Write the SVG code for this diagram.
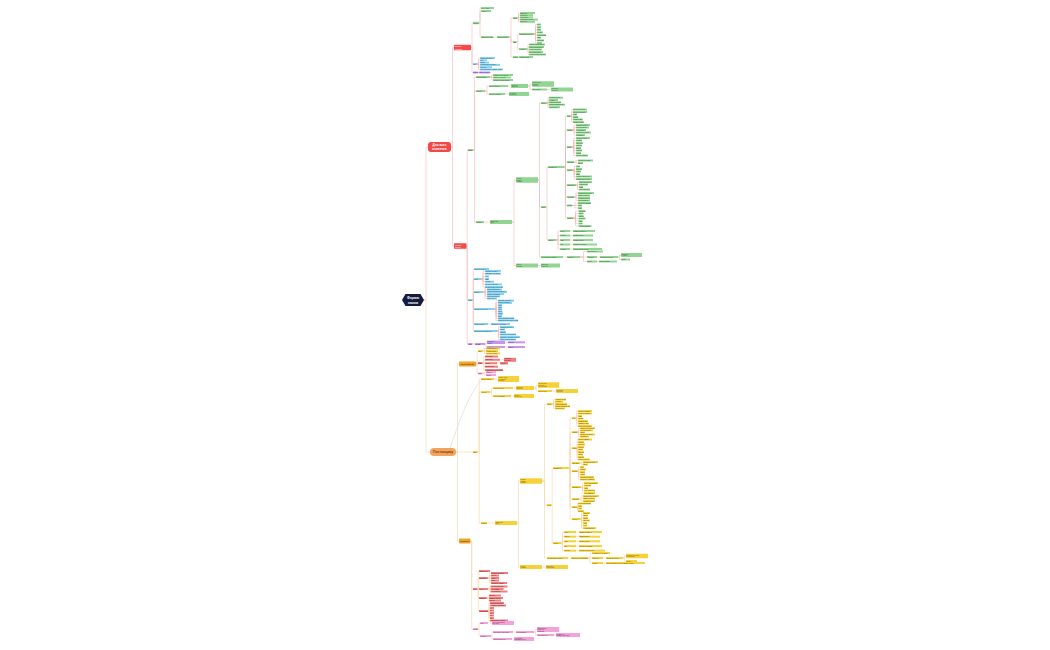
<svg xmlns="http://www.w3.org/2000/svg" width="1050" height="650" viewBox="0 0 1050 650">
<style>
text{font-family:"Liberation Sans",Arial,sans-serif;font-size:1.5px}
.g rect{fill:#92d592}.g text{fill:#1f4d1f}
.b rect{fill:#86d1f0}.b text{fill:#13435a}
.p rect{fill:#c895ea}.p text{fill:#40195a}
.y rect{fill:#f6d23a}.y text{fill:#5c4400}
.r rect{fill:#f07e7e}.r text{fill:#5c1010}
.k rect{fill:#f4a3da}.k text{fill:#5c1a48}
.cr path{fill:none;stroke:#f5b4b4;stroke-width:.55}
.co path{fill:none;stroke:#f7cf9e;stroke-width:.55}
.rel{fill:none;stroke:#c8c8c8;stroke-width:.45}
.wt{fill:#fff;font-weight:bold;text-anchor:middle}
</style>
<rect width="1050" height="650" fill="#fff"/>
<g id="connectors">
<g class="cr">
<path d="M424 300H426V147H428"/>
<path d="M451 147H452.5V47.5H454M451 147H452.5V246H454"/>
<path d="M471 47.5H472V23H473M471 47.5H472V64H473M471 47.5H472V72.5H473"/>
<path d="M479 23H480V8H481M479 23H480V11H481M479 23H480V37H481M493 37H497"/>
<path d="M509 37H511V18H513M509 37H511V42H513M509 37H511V57H513"/>
<path d="M517 18H518.5V13H520M517 18H518.5V15.2H520M517 18H518.5V17.4H520M517 18H518.5V19.6H520M517 18H518.5V21.8H520"/>
<path d="M516.5 42H517.7V34H519M516.5 42H517.7V49H519"/>
<path d="M534 34H535.5V24.5H537M534 34H535.5V27.1H537M534 34H535.5V29.8H537M534 34H535.5V32.4H537M534 34H535.5V35.1H537M534 34H535.5V37.7H537M534 34H535.5V40.4H537M534 34H535.5V43H537"/>
<path d="M527 49H528V44.5H529M527 49H528V47H529M527 49H528V49.5H529M527 49H528V52H529M527 49H528V54.5H529M518 57H519"/>
<path d="M477 64H478.5V58H480M477 64H478.5V60.3H480M477 64H478.5V62.6H480M477 64H478.5V64.9H480M477 64H478.5V67.2H480M477 64H478.5V69.5H480M478 72.5H479"/>
<path d="M466.5 246H467.2V150H468M466.5 246H467.2V300H468M466.5 246H467.2V344H468"/>
<path d="M473 150H474.5V77H476M473 150H474.5V91H476M473 150H474.5V222H476"/>
<path d="M490 77H491.5V75H493M490 77H491.5V77.5H493M490 77H491.5V80H493"/>
<path d="M485 91H487V86H489M485 91H487V94H489M508 86H511M505 94H509"/>
<path d="M528 86H530V84H532M528 86H530V89.5H532M547 89.5H551"/>
<path d="M484 222H490M512 222H514V180H516M512 222H514V265.5H516M538 265.5H541"/>
<path d="M538 180H539.5V103H541M538 180H539.5V207H541M538 180H539.5V257H541"/>
<path d="M547 103H548V97.7H549M547 103H548V100H549M547 103H548V102.3H549M547 103H548V104.7H549M547 103H548V107.2H549"/>
<path d="M546 207H547V167H548M546 207H547V240H548"/>
<path d="M564 167H565.5V116H567M564 167H565.5V130H567M564 167H565.5V147H567M564 167H565.5V162H567M564 167H565.5V170H567M564 167H565.5V185H567M564 167H565.5V197H567M564 167H565.5V205.5H567M564 167H565.5V218H567"/>
<path d="M570.5 116H571.7V109.5H573M570.5 116H571.7V112H573M570.5 116H571.7V114.5H573M570.5 116H571.7V117H573M570.5 116H571.7V119.5H573M570.5 116H571.7V122H573"/>
<path d="M572 130H574V125H576M572 130H574V127.5H576M572 130H574V130H576M572 130H574V132.5H576M572 130H574V135H576"/>
<path d="M571.5 147H573.7V138H576M571.5 147H573.7V140.5H576M571.5 147H573.7V143H576M571.5 147H573.7V145.5H576M571.5 147H573.7V148H576M571.5 147H573.7V150.5H576M571.5 147H573.7V153H576M571.5 147H573.7V155.5H576"/>
<path d="M574 162H576V160.5H578M574 162H576V163H578"/>
<path d="M572.5 170H574.2V166.5H576M572.5 170H574.2V169H576M572.5 170H574.2V171.5H576M572.5 170H574.2V174H576M572.5 170H574.2V176.5H576M572.5 170H574.2V179H576"/>
<path d="M576 185H577.5V182H579M576 185H577.5V184.5H579M576 185H577.5V187H579M576 185H577.5V189.5H579"/>
<path d="M574 197H576V193H578M574 197H576V195.5H578M574 197H576V198H578M574 197H576V200.5H578"/>
<path d="M572 205.5H575V203H578M572 205.5H575V205.5H578M572 205.5H575V208H578"/>
<path d="M573 218H575.5V211H578.5M573 218H575.5V213.5H578.5M573 218H575.5V216H578.5M573 218H575.5V218.5H578.5M573 218H575.5V221H578.5M573 218H575.5V223.5H578.5M573 218H575.5V226H578.5"/>
<path d="M556 240H558V231H560M556 240H558V235.5H560M556 240H558V240H560M556 240H558V244.5H560M556 240H558V249H560"/>
<path d="M570 231H573M570 235.5H573M570 240H573M570 244.5H573M570 249H573"/>
<path d="M563 257H567M580 257H583.5V251.5H587M580 257H583.5V257H587M580 257H583.5V261.5H587M597 257H600M597 261.5H599"/>
<path d="M618 257H619.5V255H621M618 257H619.5V259.5H621"/>
<path d="M472.5 300H473.3V269H474M472.5 300H473.3V279H474M472.5 300H473.3V292H474M472.5 300H473.3V309H474M472.5 300H473.3V324H474M472.5 300H473.3V331H474"/>
<path d="M481 279H483V271H485M481 279H483V273.7H485M481 279H483V276.4H485M481 279H483V279H485M481 279H483V281.7H485M481 279H483V284.4H485M481 279H483V287H485"/>
<path d="M483 292H485V287.5H487M483 292H485V289.7H487M483 292H485V291.9H487M483 292H485V294.1H487M483 292H485V296.3H487M483 292H485V298.5H487"/>
<path d="M494 309H496V300.7H498M494 309H496V302.9H498M494 309H496V305.1H498M494 309H496V307.3H498M494 309H496V309.5H498M494 309H496V311.7H498M494 309H496V313.9H498M494 309H496V316.1H498M494 309H496V318.3H498M494 309H496V320.5H498"/>
<path d="M488 324H491M497 331H498.5V327H500M497 331H498.5V329.5H500M497 331H498.5V332H500M497 331H498.5V334.5H500M497 331H498.5V337H500M497 331H498.5V339.5H500"/>
<path d="M472.5 344H475M485 344H486V342.3H487M485 344H486V347H487M505 342.3H508M505 347H508"/>
</g>
<g class="co">
<path d="M424 300H426V452H430"/>
<path d="M456 452H457.5V364H459M456 452H457.5V452H473M456 452H457.5V541H459"/>
<path d="M476 364H477V351H478M476 364H477V363H478M476 364H477V373.5H478"/>
<path d="M483 351H484.5V348.5H486M483 351H484.5V351H486M483 351H484.5V353.5H486"/>
<path d="M482.5 363H483.7V356.5H485M482.5 363H483.7V359.8H485M482.5 363H483.7V363.2H485M482.5 363H483.7V366.7H485M482.5 363H483.7V370H485M500 359.8H504M497 363.2H500"/>
<path d="M482.5 373.5H484.2V372.3H486M482.5 373.5H484.2V375H486"/>
<path d="M477.5 452H479.2V379H481M477.5 452H479.2V392H481M477.5 452H479.2V523H481M494 379H498"/>
<path d="M490 392H491.5V388H493M490 392H491.5V396H493M513 388H516M511 396H514"/>
<path d="M534 388H536V385H538M534 388H536V391H538M552 391H556"/>
<path d="M487 523H495M517 523H518.5V481H520M517 523H518.5V567H520M542 567H546"/>
<path d="M542 481H544.5V404H547M542 481H544.5V505H547M542 481H544.5V558H547"/>
<path d="M552 404H553.5V399.6H555M552 404H553.5V401.8H555M552 404H553.5V404H555M552 404H553.5V406.2H555M552 404H553.5V408.4H555"/>
<path d="M551.5 505H552.2V468H553M551.5 505H552.2V543H553"/>
<path d="M568 468H570V418H572M568 468H570V432H572M568 468H570V448H572M568 468H570V463H572M568 468H570V471H572M568 468H570V487H572M568 468H570V499H572M568 468H570V507H572M568 468H570V519H572"/>
<path d="M575.5 418H576.7V411H578M575.5 418H576.7V413.5H578M575.5 418H576.7V416H578M575.5 418H576.7V418.5H578M575.5 418H576.7V421H578M575.5 418H576.7V423.5H578M575.5 418H576.7V426H578"/>
<path d="M577 432H578.5V428.2H580M577 432H578.5V430.3H580M577 432H578.5V432.4H580M577 432H578.5V434.5H580M577 432H578.5V436.6H580"/>
<path d="M576.5 448H577.2V439.5H578M576.5 448H577.2V442H578M576.5 448H577.2V444.5H578M576.5 448H577.2V447H578M576.5 448H577.2V449.5H578M576.5 448H577.2V452H578M576.5 448H577.2V454.5H578M576.5 448H577.2V457H578M576.5 448H577.2V459.5H578"/>
<path d="M580 463H581.5V462H583M580 463H581.5V464.5H583"/>
<path d="M577.5 471H578.7V467H580M577.5 471H578.7V469.5H580M577.5 471H578.7V472H580M577.5 471H578.7V474.5H580M577.5 471H578.7V477H580M577.5 471H578.7V479.5H580"/>
<path d="M581 487H582.5V483H584M581 487H582.5V485.5H584M581 487H582.5V488H584M581 487H582.5V490.5H584M581 487H582.5V493H584"/>
<path d="M579 499H581V496H583M579 499H581V498.5H583M579 499H581V501H583"/>
<path d="M577 507H577.5V503.5H578M577 507H577.5V506H578M577 507H577.5V508.5H578M577 507H577.5V511H578"/>
<path d="M580 519H581.5V513H583M580 519H581.5V515.5H583M580 519H581.5V518H583M580 519H581.5V520.5H583M580 519H581.5V523H583M580 519H581.5V525.5H583M580 519H581.5V528H583"/>
<path d="M561 543H562.5V532H564M561 543H562.5V536.7H564M561 543H562.5V541.3H564M561 543H562.5V546H564M561 543H562.5V550.7H564"/>
<path d="M576 532H579M576 536.7H579M576 541.3H579M576 546H579M576 550.7H579"/>
<path d="M568 558H571M588 558H590V553H592M588 558H590V558H592M588 558H590V563H592M603 558H606M603 563H606"/>
<path d="M623 558H624.5V556H626M623 558H624.5V561H626"/>
<path d="M470.5 541H471.7V589H473M470.5 541H471.7V629H473"/>
<path d="M477.5 589H478.2V571H479M477.5 589H478.2V578H479M477.5 589H478.2V589H479M477.5 589H478.2V598H479M477.5 589H478.2V611H479"/>
<path d="M488 578H489.5V573H491M488 578H489.5V575.5H491M488 578H489.5V578H491M488 578H489.5V580.5H491M488 578H489.5V583H491"/>
<path d="M488 589H489.2V586.5H490.5M488 589H489.2V589H490.5M488 589H489.2V591.5H490.5"/>
<path d="M487 598H488V595.5H489M487 598H488V598H489M487 598H488V600.5H489"/>
<path d="M488 611H489V603H490M488 611H489V605.5H490M488 611H489V608H490M488 611H489V610.5H490M488 611H489V613H490M488 611H489V615.5H490M488 611H489V618H490M488 611H489V620.5H490"/>
<path d="M478 629H479V623H480M478 629H479V636H480M488 623H492"/>
<path d="M491 636H492V632H493M491 636H492V639H493M513 632H516M512 639H514"/>
<path d="M534 632H535.5V629.5H537M534 632H535.5V635H537M554 635H556"/>
</g>
<path class="rel" d="M450 448.5C458 425 468 395 481 380.5"/>
</g>

<g id="root"><path d="M402 300L405.5 294H420.5L424 300L420.5 306H405.5Z" fill="#151b3d"/><text x="413" y="299.3" class="wt" style="font-size:3.3px">Формы</text><text x="413" y="303.6" class="wt" style="font-size:3.3px">заказа</text></g>
<g id="dlya-vseh"><rect x="428" y="142" width="23" height="10" rx="3" fill="#f24848"/><text x="439.5" y="146.4" class="wt" style="font-size:3.1px">Для всех</text><text x="439.5" y="150.2" class="wt" style="font-size:3.1px">клиентов</text></g>
<g id="postavshiku"><rect x="430" y="448" width="26" height="8" rx="4" fill="#f5a25a"/><text x="443" y="453.3" style="font-size:3.6px;fill:#3b1d00;text-anchor:middle">Поставщику</text></g>

<g id="a1"><rect x="454" y="44.8" width="17" height="5.5" rx=".6" fill="#f04c4c"/><text x="455" y="47.2" style="font-size:1.8px;fill:#fff">Данные</text><text x="455" y="49.5" style="font-size:1.8px;fill:#fff">клиента</text></g>
<g id="a2"><rect x="454" y="243.3" width="12.5" height="5.5" rx=".6" fill="#f04c4c"/><text x="455" y="245.7" style="font-size:1.8px;fill:#fff">Каналы</text><text x="455" y="248" style="font-size:1.8px;fill:#fff">заказа</text></g>
<g id="int"><rect x="459" y="361.5" width="17" height="5" rx=".8" fill="#f0a22a"/><text x="467.5" y="364.9" style="font-size:2.5px;fill:#3b2200;text-anchor:middle">Интерфейс</text></g>
<g id="skl"><rect x="459" y="538.5" width="11.5" height="5" rx=".8" fill="#f0a22a"/><text x="464.75" y="541.9" style="font-size:2.3px;fill:#3b2200;text-anchor:middle">Приёмка</text></g>

<g id="a1a" class="g"><rect x="473" y="21.75" width="6" height="2.5"/><text x="473.4" y="23.55">Реквиз.</text></g>
<g id="a1a1" class="g"><rect x="481" y="7" width="13" height="2"/><text x="481.5" y="8.55">ИНН / КПП</text></g>
<g id="a1a2" class="g"><rect x="481" y="10" width="10" height="2"/><text x="481.5" y="11.55">Адрес</text></g>
<g id="b" class="g"><rect x="481" y="36" width="12" height="2"/><text x="481.4" y="37.55">Контактные лица</text></g>
<g id="c" class="g"><rect x="497" y="36" width="12" height="2"/><text x="497.5" y="37.55">Ответственные</text></g>
<g id="d1" class="g"><rect x="513" y="17" width="4" height="2"/><text x="513.4" y="18.55">Роли</text></g>
<g id="d1a" class="g"><rect x="520" y="12" width="15" height="2"/><text x="520.5" y="13.55">Директор</text></g>
<g id="d1b" class="g"><rect x="520" y="14.2" width="13" height="2"/><text x="520.5" y="15.75">Бухгалтер</text></g>
<g id="d1c" class="g"><rect x="520" y="16.4" width="13" height="2"/><text x="520.5" y="17.95">Менеджер</text></g>
<g id="d1d" class="g"><rect x="520" y="18.6" width="18" height="2"/><text x="520.5" y="20.15">Кладовщик склада</text></g>
<g id="d1e" class="g"><rect x="520" y="20.8" width="15" height="2"/><text x="520.5" y="22.35">Водитель</text></g>
<g id="d2" class="g"><rect x="513" y="41" width="3.5" height="2"/><text x="513.2" y="42.55" style="font-size:1.2px">Связь</text></g>
<g id="e1" class="g"><rect x="519" y="33" width="15" height="2"/><text x="519.5" y="34.55">Телефоны и почта</text></g>
<g id="e1a" class="g"><rect x="537" y="23.5" width="4" height="2"/><text x="537.4" y="25.05">Тел.</text></g>
<g id="e1b" class="g"><rect x="537" y="26.1" width="4" height="2"/><text x="537.4" y="27.65">Моб.</text></g>
<g id="e1c" class="g"><rect x="537" y="28.8" width="4" height="2"/><text x="537.4" y="30.35">Факс</text></g>
<g id="e1d" class="g"><rect x="537" y="31.4" width="6" height="2"/><text x="537.4" y="32.95">E-mail</text></g>
<g id="e1e" class="g"><rect x="537" y="34.1" width="9" height="2"/><text x="537.4" y="35.65">Мессенджер</text></g>
<g id="e1f" class="g"><rect x="537" y="36.7" width="4" height="2"/><text x="537.4" y="38.25">Сайт</text></g>
<g id="e1g" class="g"><rect x="537" y="39.4" width="7" height="2"/><text x="537.4" y="40.95">Telegram</text></g>
<g id="e1h" class="g"><rect x="537" y="42" width="5" height="2"/><text x="537.4" y="43.55">Skype</text></g>
<g id="e2" class="g"><rect x="519" y="48" width="8" height="2"/><text x="519.5" y="49.55">Адреса</text></g>
<g id="e2a" class="g"><rect x="529" y="43.5" width="16" height="2"/><text x="529.5" y="45.05">Юридический адрес</text></g>
<g id="e2b" class="g"><rect x="529" y="46" width="15" height="2"/><text x="529.5" y="47.55">Фактический адрес</text></g>
<g id="e2c" class="g"><rect x="529" y="48.5" width="13" height="2"/><text x="529.5" y="50.05">Адрес доставки</text></g>
<g id="e2d" class="g"><rect x="529" y="51" width="14" height="2"/><text x="529.5" y="52.55">Почтовый адрес</text></g>
<g id="e2e" class="g"><rect x="529" y="53.5" width="17" height="2"/><text x="529.5" y="55.05">Адрес склада клиента</text></g>
<g id="d3" class="g"><rect x="513" y="56" width="5" height="2"/><text x="513.3" y="57.55">Прочее</text></g>
<g id="d3a" class="g"><rect x="519" y="56" width="14" height="2"/><text x="519.5" y="57.55">Комментарий</text></g>

<g id="a1b" class="b"><rect x="473" y="63" width="4" height="2"/><text x="473.4" y="64.55">Тип</text></g>
<g id="a1b1" class="b"><rect x="480" y="57" width="15" height="2"/><text x="480.5" y="58.55">Розничный клиент</text></g>
<g id="a1b2" class="b"><rect x="480" y="59.3" width="7" height="2"/><text x="480.5" y="60.85">Опт</text></g>
<g id="a1b3" class="b"><rect x="480" y="61.6" width="9" height="2"/><text x="480.5" y="63.15">Дилер</text></g>
<g id="a1b4" class="b"><rect x="480" y="63.9" width="20" height="2"/><text x="480.5" y="65.45">Корпоративный клиент</text></g>
<g id="a1b5" class="b"><rect x="480" y="66.2" width="12" height="2"/><text x="480.5" y="67.75">Партнёр</text></g>
<g id="a1b6" class="b"><rect x="480" y="68.5" width="23" height="2"/><text x="480.5" y="70.05">Сетевой клиент / маркетплейс</text></g>
<g id="a1c" class="p"><rect x="473" y="71.5" width="5" height="2"/><text x="473.3" y="73.05">Скидка</text></g>
<g id="a1c1" class="p"><rect x="479" y="71.5" width="11" height="2"/><text x="479.5" y="73.05">Скидка клиента</text></g>

<g id="g0" class="g"><rect x="468" y="149" width="5" height="2"/><text x="468.3" y="150.55">Заказ</text></g>
<g id="h1" class="g"><rect x="476" y="76" width="14" height="2"/><text x="476.5" y="77.55">Шапка заказа</text></g>
<g id="h1a" class="g"><rect x="493" y="74" width="20" height="2"/><text x="493.5" y="75.55">Номер и дата заказа</text></g>
<g id="h1b" class="g"><rect x="493" y="76.5" width="18" height="2"/><text x="493.5" y="78.05">Клиент и договор</text></g>
<g id="h1c" class="g"><rect x="493" y="79" width="20" height="2"/><text x="493.5" y="80.55">Склад отгрузки заказа</text></g>
<g id="h2" class="g"><rect x="476" y="90" width="9" height="2"/><text x="476.5" y="91.55">Статус</text></g>
<g id="i1" class="g"><rect x="489" y="85" width="19" height="2"/><text x="489.5" y="86.55">Статус оплаты</text></g>
<g id="j1" class="g"><rect x="511" y="84" width="17" height="4"/><text x="511.5" y="85.6">Оплачен</text><text x="511.5" y="87.4">частично</text></g>
<g id="k1" class="g"><rect x="532" y="81.25" width="22" height="5.5"/><text x="532.5" y="83">Предоплата</text><text x="532.5" y="84.6">по счёту</text><text x="532.5" y="86.2">клиента</text></g>
<g id="k2" class="g"><rect x="532" y="88.5" width="15" height="2"/><text x="532.5" y="90.05">Постоплата</text></g>
<g id="k2a" class="g"><rect x="551" y="87.5" width="22" height="4"/><text x="551.5" y="89.1">Отсрочка</text><text x="551.5" y="90.9">платежа</text></g>
<g id="i2" class="g"><rect x="489" y="93" width="16" height="2"/><text x="489.5" y="94.55">Статус отгрузки</text></g>
<g id="j2" class="g"><rect x="509" y="92" width="20" height="4"/><text x="509.5" y="93.6">Отгружен</text><text x="509.5" y="95.4">полностью</text></g>
<g id="h3" class="g"><rect x="476" y="221" width="8" height="2"/><text x="476.5" y="222.55">Товары</text></g>
<g id="m" class="g"><rect x="490" y="220" width="22" height="4"/><text x="490.5" y="221.6">Табличная</text><text x="490.5" y="223.4">часть</text></g>
<g id="n1" class="g"><rect x="516" y="177.25" width="22" height="5.5"/><text x="516.5" y="179">Строки</text><text x="516.5" y="180.6">заказа</text><text x="516.5" y="182.2">товаров</text></g>
<g id="o1" class="g"><rect x="541" y="102" width="6" height="2"/><text x="541.5" y="103.55">Поля</text></g>
<g id="o1a" class="g"><rect x="549" y="96.7" width="14" height="2"/><text x="549.5" y="98.25">Номенклатура</text></g>
<g id="o1b" class="g"><rect x="549" y="99" width="9" height="2"/><text x="549.5" y="100.55">Артикул</text></g>
<g id="o1c" class="g"><rect x="549" y="101.3" width="12" height="2"/><text x="549.5" y="102.85">Характеристика</text></g>
<g id="o1d" class="g"><rect x="549" y="103.7" width="16" height="2"/><text x="549.5" y="105.25">Единица измерения</text></g>
<g id="o1e" class="g"><rect x="549" y="106.2" width="11" height="2"/><text x="549.5" y="107.75">Количество</text></g>
<g id="q" class="g"><rect x="541" y="206" width="5" height="2"/><text x="541.4" y="207.55">Цены</text></g>
<g id="pp" class="g"><rect x="548" y="166" width="16" height="2"/><text x="548.5" y="167.55">Параметры</text></g>
<g id="gr1" class="g"><rect x="567" y="115" width="3.5" height="2"/><text x="567.2" y="116.55" style="font-size:1.2px">Цена</text></g>
<g id="gr1a" class="g"><rect x="573" y="108.5" width="14" height="2"/><text x="573.5" y="110.05">Цена без скидки</text></g>
<g id="gr1b" class="g"><rect x="573" y="111" width="14" height="2"/><text x="573.5" y="112.55">Цена со скидкой</text></g>
<g id="gr1c" class="g"><rect x="573" y="113.5" width="4" height="2"/><text x="573.5" y="115.05">НДС</text></g>
<g id="gr1d" class="g"><rect x="573" y="116" width="5" height="2"/><text x="573.4" y="117.55">Ставка</text></g>
<g id="gr1e" class="g"><rect x="573" y="118.5" width="10" height="2"/><text x="573.5" y="120.05">Сумма НДС</text></g>
<g id="gr1f" class="g"><rect x="573" y="121" width="11" height="2"/><text x="573.5" y="122.55">Сумма с НДС</text></g>
<g id="gr2" class="g"><rect x="567" y="129" width="5" height="2"/><text x="567.3" y="130.55">Скидки</text></g>
<g id="gr2a" class="g"><rect x="576" y="124" width="14" height="2"/><text x="576.5" y="125.55">Скидка по карте</text></g>
<g id="gr2b" class="g"><rect x="576" y="126.5" width="13" height="2"/><text x="576.5" y="128.05">Ручная скидка</text></g>
<g id="gr2c" class="g"><rect x="576" y="129" width="10" height="2"/><text x="576.5" y="130.55">Автоскидка</text></g>
<g id="gr2d" class="g"><rect x="576" y="131.5" width="15" height="2"/><text x="576.5" y="133.05">Скидка на объём</text></g>
<g id="gr2e" class="g"><rect x="576" y="134" width="9" height="2"/><text x="576.5" y="135.55">Промокод</text></g>
<g id="gr3" class="g"><rect x="567" y="146" width="4.5" height="2"/><text x="567.3" y="147.55">Склад</text></g>
<g id="gr3a" class="g"><rect x="576" y="137" width="14" height="2"/><text x="576.5" y="138.55">Склад отгрузки</text></g>
<g id="gr3b" class="g"><rect x="576" y="139.5" width="6" height="2"/><text x="576.4" y="141.05">Ячейка</text></g>
<g id="gr3c" class="g"><rect x="576" y="142" width="7" height="2"/><text x="576.4" y="143.55">Остаток</text></g>
<g id="gr3d" class="g"><rect x="576" y="144.5" width="6" height="2"/><text x="576.4" y="146.05">Резерв</text></g>
<g id="gr3e" class="g"><rect x="576" y="147" width="5" height="2"/><text x="576.4" y="148.55">Заказ</text></g>
<g id="gr3f" class="g"><rect x="576" y="149.5" width="6" height="2"/><text x="576.4" y="151.05">Транзит</text></g>
<g id="gr3g" class="g"><rect x="576" y="152" width="5" height="2"/><text x="576.4" y="153.55">Серия</text></g>
<g id="gr3h" class="g"><rect x="576" y="154.5" width="12" height="2"/><text x="576.5" y="156.05">Партия товара</text></g>
<g id="gr4" class="g"><rect x="567" y="161" width="7" height="2"/><text x="567.4" y="162.55">Доставка</text></g>
<g id="gr4a" class="g"><rect x="578" y="159.5" width="15" height="2"/><text x="578.5" y="161.05">Способ доставки</text></g>
<g id="gr4b" class="g"><rect x="578" y="162" width="5" height="2"/><text x="578.5" y="163.55">Дата</text></g>
<g id="gr5" class="g"><rect x="567" y="169" width="5.5" height="2"/><text x="567.3" y="170.55">Оплата</text></g>
<g id="gr5a" class="g"><rect x="576" y="165.5" width="4" height="2"/><text x="576.4" y="167.05">Нал</text></g>
<g id="gr5b" class="g"><rect x="576" y="168" width="6" height="2"/><text x="576.4" y="169.55">Безнал</text></g>
<g id="gr5c" class="g"><rect x="576" y="170.5" width="5" height="2"/><text x="576.4" y="172.05">Карта</text></g>
<g id="gr5d" class="g"><rect x="576" y="173" width="4" height="2"/><text x="576.4" y="174.55">СБП</text></g>
<g id="gr5e" class="g"><rect x="576" y="175.5" width="16" height="2"/><text x="576.5" y="177.05">Кредит покупателю</text></g>
<g id="gr5f" class="g"><rect x="576" y="178" width="16" height="2"/><text x="576.5" y="179.55">Рассрочка платежа</text></g>
<g id="gr6" class="g"><rect x="567" y="184" width="9" height="2"/><text x="567.4" y="185.55">Документы</text></g>
<g id="gr6a" class="g"><rect x="579" y="181" width="13" height="2"/><text x="579.5" y="182.55">Счёт на оплату</text></g>
<g id="gr6b" class="g"><rect x="579" y="183.5" width="9" height="2"/><text x="579.5" y="185.05">Накладная</text></g>
<g id="gr6c" class="g"><rect x="579" y="186" width="4" height="2"/><text x="579.5" y="187.55">УПД</text></g>
<g id="gr6d" class="g"><rect x="579" y="188.5" width="11" height="2"/><text x="579.5" y="190.05">Счёт-фактура</text></g>
<g id="gr7" class="g"><rect x="567" y="196" width="7" height="2"/><text x="567.4" y="197.55">Контроль</text></g>
<g id="gr7a" class="g"><rect x="578" y="192" width="16" height="2"/><text x="578.5" y="193.55">Проверка остатков</text></g>
<g id="gr7b" class="g"><rect x="578" y="194.5" width="12" height="2"/><text x="578.5" y="196.05">Лимит кредита</text></g>
<g id="gr7c" class="g"><rect x="578" y="197" width="12" height="2"/><text x="578.5" y="198.55">Проверка цены</text></g>
<g id="gr7d" class="g"><rect x="578" y="199.5" width="12" height="2"/><text x="578.5" y="201.05">Согласование</text></g>
<g id="gr8" class="g"><rect x="567" y="204.5" width="5" height="2"/><text x="567.3" y="206.05">Печать</text></g>
<g id="gr8a" class="g"><rect x="578" y="202" width="13" height="2"/><text x="578.5" y="203.55">Печатная форма</text></g>
<g id="gr8b" class="g"><rect x="578" y="204.5" width="4" height="2"/><text x="578.5" y="206.05">PDF</text></g>
<g id="gr8c" class="g"><rect x="578" y="207" width="4" height="2"/><text x="578.5" y="208.55">XLS</text></g>
<g id="gr9" class="g"><rect x="567" y="217" width="6" height="2"/><text x="567.4" y="218.55">Отчёты</text></g>
<g id="gr9a" class="g"><rect x="578.5" y="210" width="7" height="2"/><text x="579" y="211.55">Продажи</text></g>
<g id="gr9b" class="g"><rect x="578.5" y="212.5" width="5" height="2"/><text x="579" y="214.05">Долги</text></g>
<g id="gr9c" class="g"><rect x="578.5" y="215" width="5" height="2"/><text x="579" y="216.55">Маржа</text></g>
<g id="gr9d" class="g"><rect x="578.5" y="217.5" width="7" height="2"/><text x="579" y="219.05">Остатки</text></g>
<g id="gr9e" class="g"><rect x="578.5" y="220" width="4" height="2"/><text x="579" y="221.55">ABC</text></g>
<g id="gr9f" class="g"><rect x="578.5" y="222.5" width="4" height="2"/><text x="579" y="224.05">XYZ</text></g>
<g id="gr9g" class="g"><rect x="578.5" y="225" width="13" height="2"/><text x="579" y="226.55">Анализ заказов</text></g>
<g id="rs" class="g"><rect x="548" y="239" width="8" height="2"/><text x="548.5" y="240.55">Расчёт</text></g>
<g id="pa1" class="g"><rect x="560" y="230" width="10" height="2"/><text x="560.5" y="231.55">Итого</text></g>
<g id="pa1b" class="g"><rect x="573" y="230" width="22" height="2"/><text x="573.5" y="231.55">Сумма документа</text></g>
<g id="pa2" class="g"><rect x="560" y="234.5" width="10" height="2"/><text x="560.5" y="236.05">Скидка</text></g>
<g id="pa2b" class="g"><rect x="573" y="234.5" width="20" height="2"/><text x="573.5" y="236.05">Сумма скидки</text></g>
<g id="pa3" class="g"><rect x="560" y="239" width="10" height="2"/><text x="560.5" y="240.55">НДС</text></g>
<g id="pa3b" class="g"><rect x="573" y="239" width="20" height="2"/><text x="573.5" y="240.55">Сумма налога</text></g>
<g id="pa4" class="g"><rect x="560" y="243.5" width="10" height="2"/><text x="560.5" y="245.05">Вес</text></g>
<g id="pa4b" class="g"><rect x="573" y="243.5" width="24" height="2"/><text x="573.5" y="245.05">Общий вес заказа</text></g>
<g id="pa5" class="g"><rect x="560" y="248" width="10" height="2"/><text x="560.5" y="249.55">Объём</text></g>
<g id="pa5b" class="g"><rect x="573" y="248" width="29" height="2"/><text x="573.5" y="249.55">Общий объём грузов</text></g>
<g id="s" class="g"><rect x="541" y="256" width="22" height="2"/><text x="541.5" y="257.55">Согласование заказа</text></g>
<g id="t" class="g"><rect x="567" y="256" width="13" height="2"/><text x="567.5" y="257.55">Маршрут</text></g>
<g id="u1" class="g"><rect x="587" y="250.5" width="16" height="2"/><text x="587.5" y="252.05">Руководитель</text></g>
<g id="u2" class="g"><rect x="587" y="256" width="10" height="2"/><text x="587.5" y="257.55">Финансы</text></g>
<g id="v" class="g"><rect x="600" y="256" width="18" height="2"/><text x="600.5" y="257.55">Проверка оплаты</text></g>
<g id="w1" class="g"><rect x="621" y="253" width="21" height="4"/><text x="621.5" y="254.6">Разрешить</text><text x="621.5" y="256.4">отгрузку</text></g>
<g id="w2" class="g"><rect x="621" y="258.5" width="9" height="2"/><text x="621.5" y="260.05">Отказ</text></g>
<g id="u3" class="g"><rect x="587" y="260.5" width="10" height="2"/><text x="587.5" y="262.05">Склад</text></g>
<g id="u3c" class="g"><rect x="599" y="260.5" width="18" height="2"/><text x="599.5" y="262.05">Сборка заказа</text></g>
<g id="n2" class="g"><rect x="516" y="263.5" width="22" height="4"/><text x="516.5" y="265.1">Услуги</text><text x="516.5" y="266.9">в заказе</text></g>
<g id="n2c" class="g"><rect x="541" y="263.5" width="19" height="4"/><text x="541.5" y="265.1">Доставка</text><text x="541.5" y="266.9">и монтаж</text></g>

<g id="b0" class="b"><rect x="468" y="299" width="4.5" height="2"/><text x="468.2" y="300.55" style="font-size:1.2px">Канал</text></g>
<g id="bb1" class="b"><rect x="474" y="268" width="15" height="2"/><text x="474.5" y="269.55">Личный кабинет</text></g>
<g id="bb2" class="b"><rect x="474" y="278" width="7" height="2"/><text x="474.5" y="279.55">Сайт</text></g>
<g id="bb2a" class="b"><rect x="485" y="270" width="16" height="2"/><text x="485.5" y="271.55">Корзина на сайте</text></g>
<g id="bb2b" class="b"><rect x="485" y="272.7" width="16" height="2"/><text x="485.5" y="274.25">Оформление заказа</text></g>
<g id="bb2c" class="b"><rect x="485" y="275.4" width="4" height="2"/><text x="485.5" y="276.95">API</text></g>
<g id="bb2d" class="b"><rect x="485" y="278" width="4" height="2"/><text x="485.5" y="279.55">B2B</text></g>
<g id="bb2e" class="b"><rect x="485" y="280.7" width="9" height="2"/><text x="485.5" y="282.25">Каталог</text></g>
<g id="bb2f" class="b"><rect x="485" y="283.4" width="17" height="2"/><text x="485.5" y="284.95">Интернет-магазин</text></g>
<g id="bb2g" class="b"><rect x="485" y="286" width="18" height="2"/><text x="485.5" y="287.55">Мобильное приложение</text></g>
<g id="bb3" class="b"><rect x="474" y="291" width="9" height="2"/><text x="474.5" y="292.55">Звонок</text></g>
<g id="bb3a" class="b"><rect x="487" y="286.5" width="14" height="2"/><text x="487.5" y="288.05">Звонок менеджеру</text></g>
<g id="bb3b" class="b"><rect x="487" y="288.7" width="15" height="2"/><text x="487.5" y="290.25">Входящий звонок</text></g>
<g id="bb3c" class="b"><rect x="487" y="290.9" width="20" height="2"/><text x="487.5" y="292.45">Обратный звонок клиенту</text></g>
<g id="bb3d" class="b"><rect x="487" y="293.1" width="17" height="2"/><text x="487.5" y="294.65">Запись разговора</text></g>
<g id="bb3e" class="b"><rect x="487" y="295.3" width="13" height="2"/><text x="487.5" y="296.85">Карточка звонка</text></g>
<g id="bb3f" class="b"><rect x="487" y="297.5" width="10" height="2"/><text x="487.5" y="299.05">Колл-центр</text></g>
<g id="bb4" class="b"><rect x="474" y="308" width="20" height="2"/><text x="474.5" y="309.55">Электронная почта</text></g>
<g id="bb4a" class="b"><rect x="498" y="299.7" width="16" height="2"/><text x="498.5" y="301.25">Письмо с заявкой</text></g>
<g id="bb4b" class="b"><rect x="498" y="301.9" width="14" height="2"/><text x="498.5" y="303.45">Вложение Excel</text></g>
<g id="bb4c" class="b"><rect x="498" y="304.1" width="4" height="2"/><text x="498.5" y="305.65">PDF</text></g>
<g id="bb4d" class="b"><rect x="498" y="306.3" width="4" height="2"/><text x="498.4" y="307.85">Скан</text></g>
<g id="bb4e" class="b"><rect x="498" y="308.5" width="4" height="2"/><text x="498.4" y="310.05">Фото</text></g>
<g id="bb4f" class="b"><rect x="498" y="310.7" width="4.5" height="2"/><text x="498.4" y="312.25">Текст</text></g>
<g id="bb4g" class="b"><rect x="498" y="312.9" width="5" height="2"/><text x="498.4" y="314.45">Word</text></g>
<g id="bb4h" class="b"><rect x="498" y="315.1" width="4" height="2"/><text x="498.4" y="316.65">CSV</text></g>
<g id="bb4i" class="b"><rect x="498" y="317.3" width="16" height="2"/><text x="498.5" y="318.85">Распознавание заявки</text></g>
<g id="bb4j" class="b"><rect x="498" y="319.5" width="20" height="2"/><text x="498.5" y="321.05">Обработка входящих писем</text></g>
<g id="bb5" class="b"><rect x="474" y="323" width="14" height="2"/><text x="474.5" y="324.55">Мессенджеры</text></g>
<g id="bb5a" class="b"><rect x="491" y="323" width="19" height="2"/><text x="491.5" y="324.55">WhatsApp / Telegram</text></g>
<g id="bb6" class="b"><rect x="474" y="330" width="23" height="2"/><text x="474.5" y="331.55">Торговый представитель</text></g>
<g id="bb6a" class="b"><rect x="500" y="326" width="14" height="2"/><text x="500.5" y="327.55">Мобильный агент</text></g>
<g id="bb6b" class="b"><rect x="500" y="328.5" width="5" height="2"/><text x="500.4" y="330.05">Визит</text></g>
<g id="bb6c" class="b"><rect x="500" y="331" width="6" height="2"/><text x="500.4" y="332.55">Заявка</text></g>
<g id="bb6d" class="b"><rect x="500" y="333.5" width="16" height="2"/><text x="500.5" y="335.05">Планшет с каталогом</text></g>
<g id="bb6e" class="b"><rect x="500" y="336" width="20" height="2"/><text x="500.5" y="337.55">Маршрут торгового агента</text></g>
<g id="bb6f" class="b"><rect x="500" y="338.5" width="16" height="2"/><text x="500.5" y="340.05">Фото полки магазина</text></g>

<g id="p0" class="p"><rect x="468" y="343" width="4.5" height="2"/><text x="468.2" y="344.55" style="font-size:1.2px">Акции</text></g>
<g id="pr1" class="p"><rect x="475" y="343" width="10" height="2"/><text x="475.5" y="344.55">Промо</text></g>
<g id="pra" class="p"><rect x="487" y="340.6" width="18" height="3.4"/><text x="487.5" y="341.9">Подарок к</text><text x="487.5" y="343.5">заказу</text></g>
<g id="prb" class="p"><rect x="508" y="341.3" width="17" height="2"/><text x="508.5" y="342.85">Бонусы</text></g>
<g id="prc" class="p"><rect x="487" y="346" width="18" height="2"/><text x="487.5" y="347.55">Купоны</text></g>
<g id="prd" class="p"><rect x="508" y="346" width="17" height="2"/><text x="508.5" y="347.55">Баллы</text></g>

<g id="y1" class="y"><rect x="478" y="350" width="5" height="2"/><text x="478.5" y="351.55">Вид</text></g>
<g id="y1a" class="y"><rect x="486" y="347.5" width="14" height="2"/><text x="486.5" y="349.05">Список заказов</text></g>
<g id="y1b" class="y"><rect x="486" y="350" width="12" height="2"/><text x="486.5" y="351.55">Форма заказа</text></g>
<g id="y1c" class="y"><rect x="486" y="352.5" width="14" height="2"/><text x="486.5" y="354.05">Журнал заявок</text></g>
<g id="r1" class="r"><rect x="478" y="362" width="4.5" height="2"/><text x="478.2" y="363.55" style="font-size:1.2px">Права</text></g>
<g id="r1a" class="r"><rect x="485" y="355.5" width="13" height="2"/><text x="485.5" y="357.05">Менеджер</text></g>
<g id="r1b" class="r"><rect x="485" y="358.8" width="15" height="2"/><text x="485.5" y="360.35">Закупщик</text></g>
<g id="r1b1" class="r"><rect x="504" y="357.8" width="12" height="4"/><text x="504.5" y="359.4">Создание</text><text x="504.5" y="361.2">и правка</text></g>
<g id="r1c" class="r"><rect x="485" y="362.2" width="12" height="2"/><text x="485.5" y="363.75">Склад</text></g>
<g id="r1c1" class="r"><rect x="500" y="362" width="8" height="2.5"/><text x="500.5" y="363.8">Чтение</text></g>
<g id="r1d" class="r"><rect x="485" y="365.7" width="13" height="2"/><text x="485.5" y="367.25">Бухгалтерия</text></g>
<g id="r1e" class="r"><rect x="485" y="369" width="18" height="2"/><text x="485.5" y="370.55">Администратор системы</text></g>
<g id="kk1" class="k"><rect x="478" y="372.5" width="4.5" height="2"/><text x="478.2" y="374.05" style="font-size:1.2px">Поиск</text></g>
<g id="kk1a" class="k"><rect x="486" y="371.3" width="10" height="2"/><text x="486.5" y="372.85">Фильтр</text></g>
<g id="kk1b" class="k"><rect x="486" y="374" width="10" height="2"/><text x="486.5" y="375.55">Отбор</text></g>

<g id="gy" class="y"><rect x="473" y="451" width="4.5" height="2"/><text x="473.2" y="452.55" style="font-size:1.2px">Заказ</text></g>
<g id="hy1" class="y"><rect x="481" y="378" width="13" height="2"/><text x="481.5" y="379.55">Шапка заказа</text></g>
<g id="hy1c" class="y"><rect x="498" y="376" width="21" height="6"/><text x="498.5" y="377.7">Номер, дата,</text><text x="498.5" y="379.5">поставщик,</text><text x="498.5" y="381.3">договор</text></g>
<g id="hy2" class="y"><rect x="481" y="391" width="9" height="2"/><text x="481.5" y="392.55">Статус</text></g>
<g id="iy1" class="y"><rect x="493" y="387" width="20" height="2"/><text x="493.5" y="388.55">Статус оплаты</text></g>
<g id="jy1" class="y"><rect x="516" y="386" width="18" height="4"/><text x="516.5" y="387.6">Оплачен</text><text x="516.5" y="389.4">частично</text></g>
<g id="ky1" class="y"><rect x="538" y="382.25" width="21" height="5.5"/><text x="538.5" y="384">Предоплата</text><text x="538.5" y="385.6">по счёту</text><text x="538.5" y="387.2">поставщика</text></g>
<g id="ky2" class="y"><rect x="538" y="390" width="14" height="2"/><text x="538.5" y="391.55">Постоплата</text></g>
<g id="ky2c" class="y"><rect x="556" y="389" width="22" height="4"/><text x="556.5" y="390.6">Отсрочка</text><text x="556.5" y="392.4">платежа</text></g>
<g id="iy2" class="y"><rect x="493" y="395" width="18" height="2"/><text x="493.5" y="396.55">Статус приёмки</text></g>
<g id="jy2" class="y"><rect x="514" y="394" width="20" height="4"/><text x="514.5" y="395.6">Принят</text><text x="514.5" y="397.4">полностью</text></g>
<g id="hy3" class="y"><rect x="481" y="522" width="6" height="2"/><text x="481.3" y="523.55">Товары</text></g>
<g id="my" class="y"><rect x="495" y="521" width="22" height="4"/><text x="495.5" y="522.6">Табличная</text><text x="495.5" y="524.4">часть</text></g>
<g id="ny1" class="y"><rect x="520" y="478.25" width="22" height="5.5"/><text x="520.5" y="480">Строки</text><text x="520.5" y="481.6">заказа</text><text x="520.5" y="483.2">товаров</text></g>
<g id="oy1" class="y"><rect x="547" y="403" width="5" height="2"/><text x="547.4" y="404.55">Поля</text></g>
<g id="oy1a" class="y"><rect x="555" y="398.6" width="11" height="2"/><text x="555.5" y="400.15">Номенклатура</text></g>
<g id="oy1b" class="y"><rect x="555" y="400.8" width="8" height="2"/><text x="555.5" y="402.35">Артикул</text></g>
<g id="oy1c" class="y"><rect x="555" y="403" width="12" height="2"/><text x="555.5" y="404.55">Характеристика</text></g>
<g id="oy1d" class="y"><rect x="555" y="405.2" width="15" height="2"/><text x="555.5" y="406.75">Единица измерения</text></g>
<g id="oy1e" class="y"><rect x="555" y="407.4" width="10" height="2"/><text x="555.5" y="408.95">Количество</text></g>
<g id="qy" class="y"><rect x="547" y="504" width="4.5" height="2"/><text x="547.3" y="505.55">Цены</text></g>
<g id="py" class="y"><rect x="553" y="467" width="15" height="2"/><text x="553.5" y="468.55">Параметры</text></g>
<g id="gy1" class="y"><rect x="572" y="417" width="3.5" height="2"/><text x="572.2" y="418.55" style="font-size:1.2px">Цена</text></g>
<g id="gy1a" class="y"><rect x="578" y="410" width="14" height="2"/><text x="578.5" y="411.55">Цена без скидки</text></g>
<g id="gy1b" class="y"><rect x="578" y="412.5" width="14" height="2"/><text x="578.5" y="414.05">Цена со скидкой</text></g>
<g id="gy1c" class="y"><rect x="578" y="415" width="4" height="2"/><text x="578.5" y="416.55">НДС</text></g>
<g id="gy1d" class="y"><rect x="578" y="417.5" width="5" height="2"/><text x="578.4" y="419.05">Ставка</text></g>
<g id="gy1e" class="y"><rect x="578" y="420" width="10" height="2"/><text x="578.5" y="421.55">Сумма НДС</text></g>
<g id="gy1f" class="y"><rect x="578" y="422.5" width="11" height="2"/><text x="578.5" y="424.05">Сумма с НДС</text></g>
<g id="gy1g" class="y"><rect x="578" y="425" width="14" height="2"/><text x="578.5" y="426.55">Цена поставщика</text></g>
<g id="gy2" class="y"><rect x="572" y="431" width="5" height="2"/><text x="572.3" y="432.55">Скидки</text></g>
<g id="gy2a" class="y"><rect x="580" y="427.25" width="15" height="1.9"/><text x="580.5" y="428.75">Скидка по договору</text></g>
<g id="gy2b" class="y"><rect x="580" y="429.35" width="13" height="1.9"/><text x="580.5" y="430.85">Ручная скидка</text></g>
<g id="gy2c" class="y"><rect x="580" y="431.45" width="5" height="1.9"/><text x="580.4" y="432.95">Бонус</text></g>
<g id="gy2d" class="y"><rect x="580" y="433.55" width="15" height="1.9"/><text x="580.5" y="435.05">Скидка на объём</text></g>
<g id="gy2e" class="y"><rect x="580" y="435.65" width="9" height="1.9"/><text x="580.5" y="437.15">Промокод</text></g>
<g id="gy3" class="y"><rect x="572" y="447" width="4.5" height="2"/><text x="572.3" y="448.55">Склад</text></g>
<g id="gy3a" class="y"><rect x="578" y="438.5" width="14" height="2"/><text x="578.5" y="440.05">Склад приёмки</text></g>
<g id="gy3b" class="y"><rect x="578" y="441" width="6" height="2"/><text x="578.4" y="442.55">Ячейка</text></g>
<g id="gy3c" class="y"><rect x="578" y="443.5" width="7" height="2"/><text x="578.4" y="445.05">Остаток</text></g>
<g id="gy3d" class="y"><rect x="578" y="446" width="6" height="2"/><text x="578.4" y="447.55">Резерв</text></g>
<g id="gy3e" class="y"><rect x="578" y="448.5" width="5" height="2"/><text x="578.4" y="450.05">Заказ</text></g>
<g id="gy3f" class="y"><rect x="578" y="451" width="6" height="2"/><text x="578.4" y="452.55">Транзит</text></g>
<g id="gy3g" class="y"><rect x="578" y="453.5" width="5" height="2"/><text x="578.4" y="455.05">Серия</text></g>
<g id="gy3h" class="y"><rect x="578" y="456" width="6" height="2"/><text x="578.4" y="457.55">Партия</text></g>
<g id="gy3i" class="y"><rect x="578" y="458.5" width="12" height="2"/><text x="578.5" y="460.05">Срок годности</text></g>
<g id="gy4" class="y"><rect x="572" y="462" width="8" height="2"/><text x="572.4" y="463.55">Доставка</text></g>
<g id="gy4a" class="y"><rect x="583" y="461" width="15" height="2"/><text x="583.5" y="462.55">Способ доставки</text></g>
<g id="gy4b" class="y"><rect x="583" y="463.5" width="5" height="2"/><text x="583.5" y="465.05">Дата</text></g>
<g id="gy5" class="y"><rect x="572" y="470" width="5.5" height="2"/><text x="572.3" y="471.55">Оплата</text></g>
<g id="gy5a" class="y"><rect x="580" y="466" width="4" height="2"/><text x="580.4" y="467.55">Нал</text></g>
<g id="gy5b" class="y"><rect x="580" y="468.5" width="6" height="2"/><text x="580.4" y="470.05">Безнал</text></g>
<g id="gy5c" class="y"><rect x="580" y="471" width="5" height="2"/><text x="580.4" y="472.55">Карта</text></g>
<g id="gy5d" class="y"><rect x="580" y="473.5" width="5" height="2"/><text x="580.4" y="475.05">Аванс</text></g>
<g id="gy5e" class="y"><rect x="580" y="476" width="14" height="2"/><text x="580.5" y="477.55">Отсрочка платежа</text></g>
<g id="gy5f" class="y"><rect x="580" y="478.5" width="15" height="2"/><text x="580.5" y="480.05">Оплата по графику</text></g>
<g id="gy6" class="y"><rect x="572" y="486" width="9" height="2"/><text x="572.4" y="487.55">Документы</text></g>
<g id="gy6a" class="y"><rect x="584" y="482" width="14" height="2"/><text x="584.5" y="483.55">Счёт поставщика</text></g>
<g id="gy6b" class="y"><rect x="584" y="484.5" width="7" height="2"/><text x="584.4" y="486.05">ТОРГ-12</text></g>
<g id="gy6c" class="y"><rect x="584" y="487" width="4" height="2"/><text x="584.4" y="488.55">УПД</text></g>
<g id="gy6d" class="y"><rect x="584" y="489.5" width="11" height="2"/><text x="584.5" y="491.05">Счёт-фактура</text></g>
<g id="gy6e" class="y"><rect x="584" y="492" width="11" height="2"/><text x="584.5" y="493.55">Сертификаты</text></g>
<g id="gy7" class="y"><rect x="572" y="498" width="7" height="2"/><text x="572.4" y="499.55">Контроль</text></g>
<g id="gy7a" class="y"><rect x="583" y="495" width="16" height="2"/><text x="583.5" y="496.55">Проверка остатков</text></g>
<g id="gy7b" class="y"><rect x="583" y="497.5" width="12" height="2"/><text x="583.5" y="499.05">Лимит бюджета</text></g>
<g id="gy7c" class="y"><rect x="583" y="500" width="12" height="2"/><text x="583.5" y="501.55">Проверка цены</text></g>
<g id="gy8" class="y"><rect x="572" y="506" width="5" height="2"/><text x="572.3" y="507.55">Печать</text></g>
<g id="gy8a" class="y"><rect x="578" y="502.5" width="13" height="2"/><text x="578.5" y="504.05">Печатная форма</text></g>
<g id="gy8b" class="y"><rect x="578" y="505" width="4" height="2"/><text x="578.5" y="506.55">PDF</text></g>
<g id="gy8c" class="y"><rect x="578" y="507.5" width="4" height="2"/><text x="578.5" y="509.05">XLS</text></g>
<g id="gy8d" class="y"><rect x="578" y="510" width="6" height="2"/><text x="578.4" y="511.55">E-mail</text></g>
<g id="gy9" class="y"><rect x="572" y="518" width="8" height="2"/><text x="572.4" y="519.55">Отчёты</text></g>
<g id="gy9a" class="y"><rect x="583" y="512" width="7" height="2"/><text x="583.4" y="513.55">Закупки</text></g>
<g id="gy9b" class="y"><rect x="583" y="514.5" width="5" height="2"/><text x="583.4" y="516.05">Долги</text></g>
<g id="gy9c" class="y"><rect x="583" y="517" width="5" height="2"/><text x="583.4" y="518.55">Сроки</text></g>
<g id="gy9d" class="y"><rect x="583" y="519.5" width="7" height="2"/><text x="583.4" y="521.05">Остатки</text></g>
<g id="gy9e" class="y"><rect x="583" y="522" width="4" height="2"/><text x="583.4" y="523.55">ABC</text></g>
<g id="gy9f" class="y"><rect x="583" y="524.5" width="4" height="2"/><text x="583.4" y="526.05">XYZ</text></g>
<g id="gy9g" class="y"><rect x="583" y="527" width="13" height="2"/><text x="583.5" y="528.55">Анализ закупок</text></g>
<g id="ry" class="y"><rect x="553" y="542" width="8" height="2"/><text x="553.5" y="543.55">Расчёт</text></g>
<g id="pya1" class="y"><rect x="564" y="531" width="12" height="2"/><text x="564.5" y="532.55">Итого</text></g>
<g id="pya1b" class="y"><rect x="579" y="531" width="23" height="2"/><text x="579.5" y="532.55">Сумма документа</text></g>
<g id="pya2" class="y"><rect x="564" y="535.7" width="12" height="2"/><text x="564.5" y="537.25">Скидка</text></g>
<g id="pya2b" class="y"><rect x="579" y="535.7" width="21" height="2"/><text x="579.5" y="537.25">Сумма скидки</text></g>
<g id="pya3" class="y"><rect x="564" y="540.3" width="12" height="2"/><text x="564.5" y="541.85">НДС</text></g>
<g id="pya3b" class="y"><rect x="579" y="540.3" width="21" height="2"/><text x="579.5" y="541.85">Сумма налога</text></g>
<g id="pya4" class="y"><rect x="564" y="545" width="12" height="2"/><text x="564.5" y="546.55">Вес</text></g>
<g id="pya4b" class="y"><rect x="579" y="545" width="23" height="2"/><text x="579.5" y="546.55">Общий вес заказа</text></g>
<g id="pya5" class="y"><rect x="564" y="549.7" width="12" height="2"/><text x="564.5" y="551.25">Объём</text></g>
<g id="pya5b" class="y"><rect x="579" y="549.7" width="26" height="2"/><text x="579.5" y="551.25">Общий объём грузов</text></g>
<g id="sy" class="y"><rect x="547" y="557" width="21" height="2"/><text x="547.5" y="558.55">Согласование заказа</text></g>
<g id="ty" class="y"><rect x="571" y="557" width="17" height="2"/><text x="571.5" y="558.55">Маршрут согласования</text></g>
<g id="uy1" class="y"><rect x="592" y="552" width="18" height="2"/><text x="592.5" y="553.55">Руководитель отдела</text></g>
<g id="uy2" class="y"><rect x="592" y="557" width="11" height="2"/><text x="592.5" y="558.55">Финансы</text></g>
<g id="vy" class="y"><rect x="606" y="557" width="17" height="2"/><text x="606.5" y="558.55">Проверка оплаты</text></g>
<g id="wy1" class="y"><rect x="626" y="553.75" width="22" height="4.5"/><text x="626.5" y="555.6">Разрешить оплату</text><text x="626.5" y="557.4">поставщику</text></g>
<g id="wy2" class="y"><rect x="626" y="560" width="11" height="2"/><text x="626.5" y="561.55">Отказ</text></g>
<g id="uy3" class="y"><rect x="592" y="562" width="11" height="2"/><text x="592.5" y="563.55">Склад</text></g>
<g id="uy3c" class="y"><rect x="606" y="562" width="39" height="2"/><text x="606.5" y="563.55">Подготовка места для приёмки товара</text></g>
<g id="ny2" class="y"><rect x="520" y="565" width="22" height="4"/><text x="520.5" y="566.6">Услуги</text><text x="520.5" y="568.4">в заказе</text></g>
<g id="ny2c" class="y"><rect x="546" y="565" width="22" height="4"/><text x="546.5" y="566.6">Доставка</text><text x="546.5" y="568.4">и разгрузка</text></g>

<g id="rr" class="r"><rect x="473" y="588" width="4.5" height="2"/><text x="473.3" y="589.55" style="font-size:1.3px">Учёт</text></g>
<g id="s1" class="r"><rect x="479" y="570" width="11" height="2"/><text x="479.5" y="571.55">Документы</text></g>
<g id="s2" class="r"><rect x="479" y="577" width="9" height="2"/><text x="479.5" y="578.55">Проверка</text></g>
<g id="s2a" class="r"><rect x="491" y="572" width="17" height="2"/><text x="491.5" y="573.55">Сверка с заказом</text></g>
<g id="s2b" class="r"><rect x="491" y="574.5" width="8" height="2"/><text x="491.5" y="576.05">Кол-во</text></g>
<g id="s2c" class="r"><rect x="491" y="577" width="8" height="2"/><text x="491.5" y="578.55">Цена</text></g>
<g id="s2d" class="r"><rect x="491" y="579.5" width="8" height="2"/><text x="491.5" y="581.05">Брак</text></g>
<g id="s2e" class="r"><rect x="491" y="582" width="16" height="2"/><text x="491.5" y="583.55">Пересорт товара</text></g>
<g id="s3" class="r"><rect x="479" y="588" width="9" height="2"/><text x="479.5" y="589.55">Акты</text></g>
<g id="s3a" class="r"><rect x="490.5" y="585.5" width="17" height="2"/><text x="491" y="587.05">Акт расхождений</text></g>
<g id="s3b" class="r"><rect x="490.5" y="588" width="13" height="2"/><text x="491" y="589.55">Акт о браке</text></g>
<g id="s3c" class="r"><rect x="490.5" y="590.5" width="17" height="2"/><text x="491" y="592.05">Акт возврата</text></g>
<g id="s4" class="r"><rect x="479" y="597" width="8" height="2"/><text x="479.5" y="598.55">Возврат</text></g>
<g id="s4a" class="r"><rect x="489" y="594.5" width="12" height="2"/><text x="489.5" y="596.05">Возврат</text></g>
<g id="s4b" class="r"><rect x="489" y="597" width="14" height="2"/><text x="489.5" y="598.55">Замена товара</text></g>
<g id="s4c" class="r"><rect x="489" y="599.5" width="12" height="2"/><text x="489.5" y="601.05">Уценка</text></g>
<g id="s5" class="r"><rect x="479" y="610" width="9" height="2"/><text x="479.4" y="611.55">Размещение</text></g>
<g id="s5a" class="r"><rect x="490" y="602" width="14" height="2"/><text x="490.5" y="603.55">Ячейки хранения</text></g>
<g id="s5b" class="r"><rect x="490" y="604.5" width="16" height="2"/><text x="490.5" y="606.05">Адресное хранение</text></g>
<g id="s5c" class="r"><rect x="490" y="607" width="4" height="2"/><text x="490.5" y="608.55">A</text></g>
<g id="s5d" class="r"><rect x="490" y="609.5" width="4" height="2"/><text x="490.5" y="611.05">B</text></g>
<g id="s5e" class="r"><rect x="490" y="612" width="4" height="2"/><text x="490.5" y="613.55">C</text></g>
<g id="s5f" class="r"><rect x="490" y="614.5" width="4" height="2"/><text x="490.5" y="616.05">D</text></g>
<g id="s5g" class="r"><rect x="490" y="617" width="4" height="2"/><text x="490.5" y="618.55">E</text></g>
<g id="s5h" class="r"><rect x="490" y="619.5" width="18" height="2"/><text x="490.5" y="621.05">Маркировка товаров</text></g>
<g id="kk" class="k"><rect x="473" y="628" width="5" height="2"/><text x="473.2" y="629.55" style="font-size:1.3px">Оплата</text></g>
<g id="kp1" class="k"><rect x="480" y="622" width="8" height="2"/><text x="480.5" y="623.55">Счёт</text></g>
<g id="kp1c" class="k"><rect x="492" y="621" width="22" height="4"/><text x="492.5" y="622.6">Счёт поставщика</text><text x="492.5" y="624.4">на оплату</text></g>
<g id="kp2" class="k"><rect x="480" y="635" width="11" height="2"/><text x="480.5" y="636.55">Платёж</text></g>
<g id="kp21" class="k"><rect x="493" y="631" width="20" height="2"/><text x="493.5" y="632.55">Платёжное поручение</text></g>
<g id="kp21c" class="k"><rect x="516" y="631" width="18" height="2"/><text x="516.5" y="632.55">Согласование</text></g>
<g id="kp21d" class="k"><rect x="537" y="627" width="22" height="5"/><text x="537.5" y="628.6">Финансовый</text><text x="537.5" y="630.1">директор</text><text x="537.5" y="631.6">компании</text></g>
<g id="kp21e" class="k"><rect x="537" y="634" width="17" height="2"/><text x="537.5" y="635.55">Казначейство</text></g>
<g id="kp21f" class="k"><rect x="556" y="633" width="24" height="4"/><text x="556.5" y="634.6">Оплата по</text><text x="556.5" y="636.4">графику платежей</text></g>
<g id="kp22" class="k"><rect x="493" y="638" width="19" height="2"/><text x="493.5" y="639.55">Сверка расчётов</text></g>
<g id="kp22c" class="k"><rect x="514" y="637" width="20" height="4"/><text x="514.5" y="638.6">Акт сверки</text><text x="514.5" y="640.4">взаиморасчётов</text></g>
</svg>
